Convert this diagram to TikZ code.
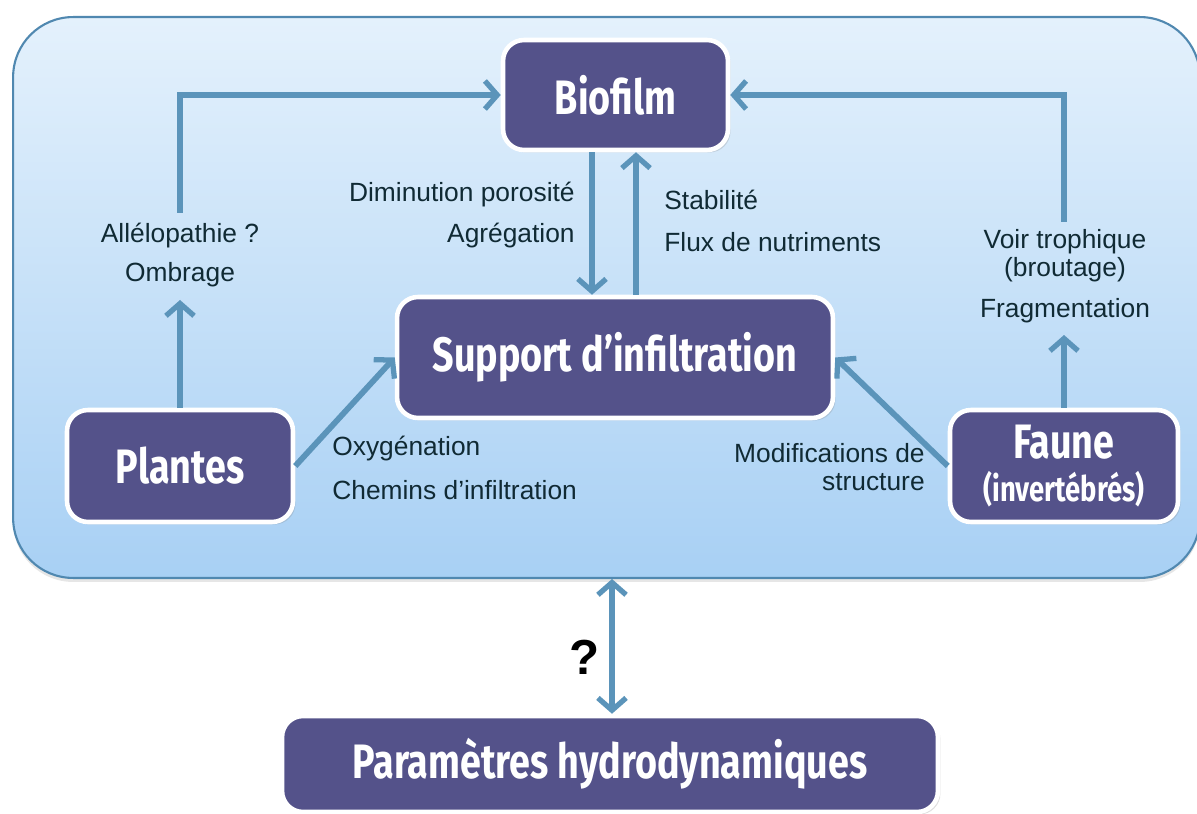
\documentclass[tikz,border=0pt]{standalone}
\usepackage{fontspec}
\setmainfont{Liberation Sans}
\newfontfamily\blocfont[FakeStretch=0.78]{Fira Sans}
\usetikzlibrary{arrows.meta,shadows}

\definecolor{violet}{RGB}{84,82,138}
\definecolor{fleche}{RGB}{91,148,186}
\definecolor{cadre}{RGB}{80,136,176}
\definecolor{fondhaut}{RGB}{228,241,252}
\definecolor{fondbas}{RGB}{168,208,244}
\definecolor{texte}{RGB}{16,42,52}

\tikzset{
	bloc/.style={draw=white, line width=2.6pt, fill=violet, rounded corners=0.42cm,
		text=white, font=\blocfont\bfseries\fontsize{27.5}{30}\selectfont, align=center,
		drop shadow={opacity=0.25, shadow xshift=0.05cm, shadow yshift=-0.05cm}},
	lien/.style={draw=fleche, line width=3.3pt, -{Straight Barb[length=7pt,width=16pt,line width=3pt]}},
	etiq/.style={inner sep=0pt, text=texte, font=\fontsize{15}{17}\selectfont}
}

\begin{document}
\begin{tikzpicture}[x=0.02cm,y=-0.02cm]
	\useasboundingbox (0,0) rectangle (1197,814);

	% fond
	\node[draw=cadre, line width=1.2pt, rounded corners=1.2cm, top color=fondhaut, bottom color=fondbas,
		minimum width=23.74cm, minimum height=11.22cm, inner sep=0pt,
		drop shadow={opacity=0.2, shadow xshift=0cm, shadow yshift=-0.08cm}] (fond) at (606.5,297.5) {};

	% blocs
	\node[bloc, minimum width=4.5cm, minimum height=2.2cm] (biofilm) at (615.5,95) {Biofilm};
	\node[bloc, minimum width=8.72cm, minimum height=2.42cm] (support) at (615,357.5) {Support d’infiltration};
	\node[bloc, minimum width=4.52cm, minimum height=2.24cm] (plantes) at (180,466) {Plantes};
	\node[bloc, minimum width=4.56cm, minimum height=2.24cm] (faune) at (1064,466)
		{Faune\\[-6pt]{\fontsize{20}{22}\selectfont (invertébrés)}};
	\node[bloc, minimum width=13.12cm, minimum height=1.92cm] (param) at (610,764) {Paramètres hydrodynamiques};

	\coordinate (pl1) at (180,300);
	\coordinate (pl2) at (180,213);
	\coordinate (fa1) at (1064,335);
	\coordinate (fa2) at (1064,222);
	\coordinate (desc) at (592,0);
	\coordinate (mont) at (636,0);
	\coordinate (axe) at (612,0);

	% fleches
	\draw[lien] (plantes.north) -- (pl1);
	\draw[lien] (pl2) |- (biofilm.west);
	\draw[lien] (faune.north) -- (fa1);
	\draw[lien] (fa2) |- (biofilm.east);
	\draw[lien] (biofilm.south -| desc) -- (support.north -| desc);
	\draw[lien] (support.north -| mont) -- (biofilm.south -| mont);
	\draw[lien] (plantes.east) -- (support.west);
	\draw[lien] (faune.west) -- (support.east);
	\draw[lien, {Straight Barb[length=7pt,width=16pt,line width=3pt]}-{Straight Barb[length=7pt,width=16pt,line width=3pt]}]
		(fond.south -| axe) -- (param.north -| axe);

	% etiquettes
	\node[etiq] (alle) at (180,236) {Allélopathie ?};
	\node[etiq] (ombr) at (180,275) {Ombrage};
	\node[etiq, anchor=east] (dimi) at (575,195) {Diminution porosité};
	\node[etiq, anchor=east] (agre) at (575,236) {Agrégation};
	\node[etiq, anchor=west] (stab) at (664,200) {Stabilité};
	\node[etiq, anchor=west] (flux) at (664,242) {Flux de nutriments};
	\node[etiq, anchor=west] (oxyg) at (332,449) {Oxygénation};
	\node[etiq, anchor=west] (chem) at (332,490) {Chemins d’infiltration};
	\node[etiq, anchor=east] (modi) at (925,453) {Modifications de};
	\node[etiq, anchor=east] (stru) at (925,482) {structure};
	\node[etiq] (voir) at (1065,242) {Voir trophique};
	\node[etiq] (brou) at (1065,270) {(broutage)};
	\node[etiq] (frag) at (1065,311) {Fragmentation};
	\node[inner sep=0pt, font=\bfseries\fontsize{28}{30}\selectfont] (quest) at (585,657) {?};
\end{tikzpicture}
\end{document}
